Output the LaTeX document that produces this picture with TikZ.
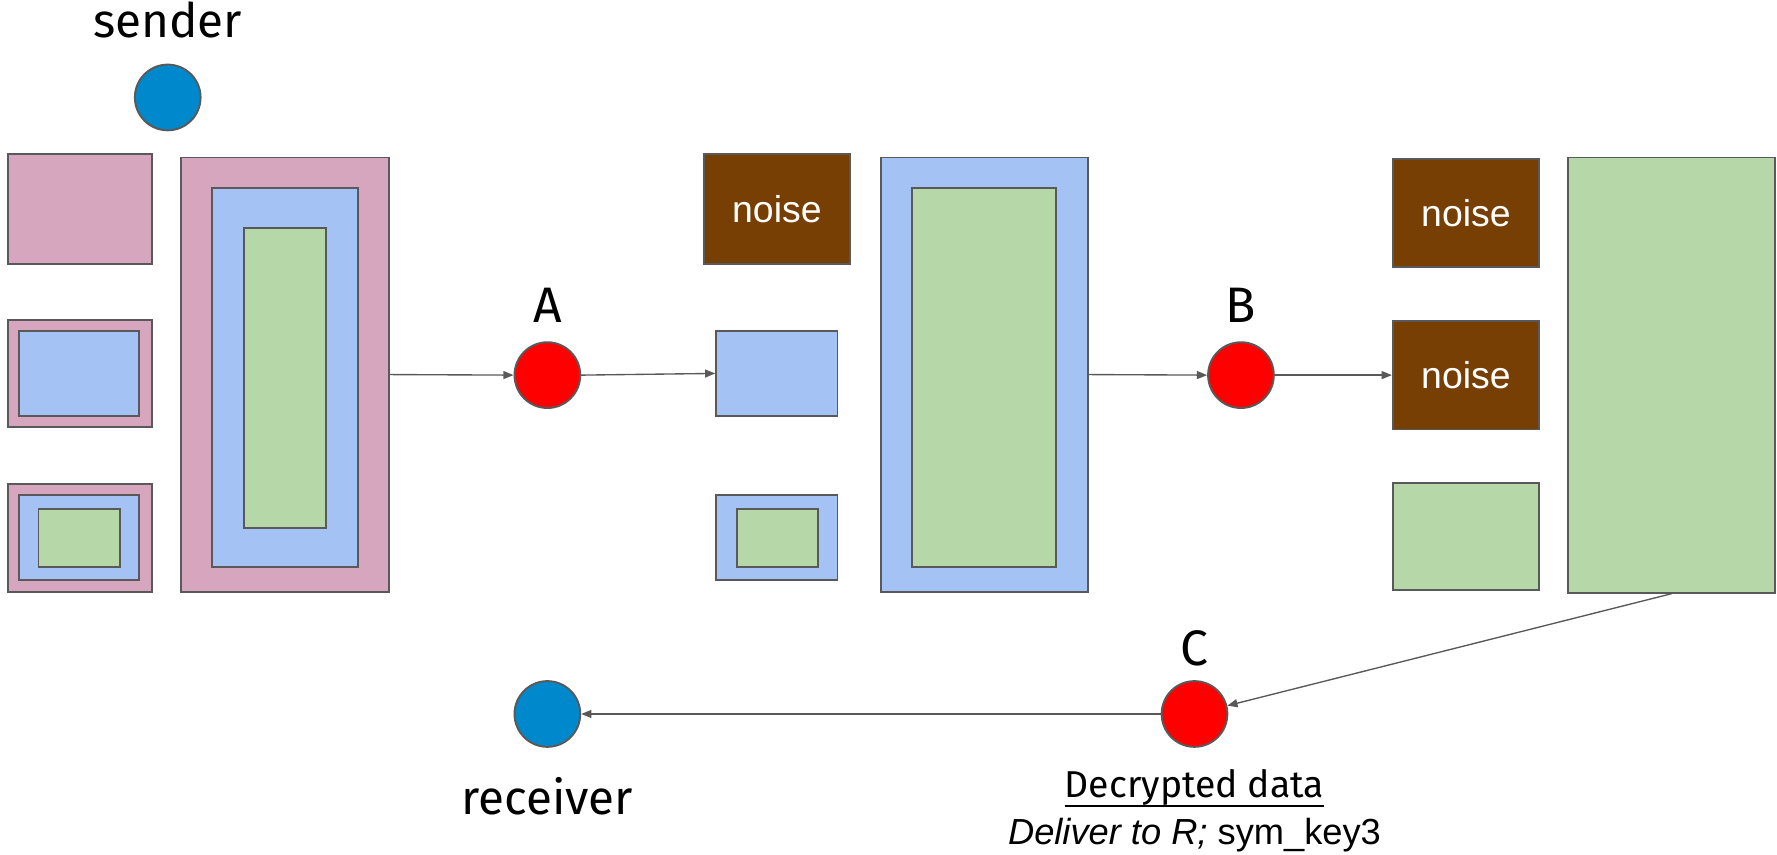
\documentclass[tikz,border=0pt]{standalone}
\usepackage{fontspec}
\setmainfont{Liberation Sans}
\newfontfamily\lblfont{Fira Sans}
\usetikzlibrary{arrows.meta}
\definecolor{pinkc}{HTML}{D5A6BD}
\definecolor{bluec}{HTML}{A4C2F4}
\definecolor{greenc}{HTML}{B6D7A8}
\definecolor{brownc}{HTML}{783F04}
\definecolor{redc}{HTML}{FF0000}
\definecolor{dotblue}{HTML}{0088CC}
\definecolor{edgec}{HTML}{595959}
\tikzset{
  box/.style={draw=edgec, line width=1.7pt, inner sep=0pt, rectangle},
  pinkbox/.style={box, fill=pinkc},
  bluebox/.style={box, fill=bluec},
  greenbox/.style={box, fill=greenc},
  noisebox/.style={box, fill=brownc, text=white, font=\fontsize{33}{33}\selectfont},
  dot/.style={circle, draw=edgec, line width=1.7pt, minimum size=58pt, inner sep=0pt},
  reddot/.style={dot, fill=redc},
  bluedot/.style={dot, fill=dotblue},
  lbl/.style={font=\lblfont\fontsize{42}{42}\selectfont, anchor=base, inner sep=0pt},
  letter/.style={font=\lblfont\fontsize{44}{44}\selectfont, anchor=base, inner sep=0pt},
  arr/.style={draw=edgec, line width=1.2pt, -{Triangle[length=9pt,width=7pt]}}
}
\begin{document}
\begin{tikzpicture}[x=1pt,y=-1pt]
\useasboundingbox (0,0) rectangle (1568,754);
% sender column
\node[lbl] (sendt) at (148,33) {sender};
\node[bluedot] (S) at (148,86) {};
\node[pinkbox, minimum width=127pt, minimum height=97pt] (p1) at (70.5,184.5) {};
\node[pinkbox, minimum width=127pt, minimum height=95pt] (p2) at (70.5,329.5) {};
\node[bluebox, minimum width=106pt, minimum height=75pt] (p2b) at (70,329.5) {};
\node[pinkbox, minimum width=127pt, minimum height=95pt] (p3) at (70.5,474.5) {};
\node[bluebox, minimum width=106pt, minimum height=75pt] (p3b) at (70,474.5) {};
\node[greenbox, minimum width=72pt, minimum height=51pt] (p3g) at (70,474.5) {};
\node[pinkbox, minimum width=183pt, minimum height=383pt] (P) at (251.5,330.5) {};
\node[bluebox, minimum width=129pt, minimum height=334pt] (Pb) at (251.5,333) {};
\node[greenbox, minimum width=73pt, minimum height=265pt] (Pg) at (251.5,333.5) {};
% A
\node[reddot] (A) at (483,331) {};
\node[letter] (At) at (483,285) {A};
% middle column
\node[noisebox, minimum width=129pt, minimum height=97pt] (n1) at (685.5,184.5) {noise};
\node[bluebox, minimum width=107pt, minimum height=75pt] (m2) at (685.5,329.5) {};
\node[bluebox, minimum width=107pt, minimum height=75pt] (m3) at (685.5,474.5) {};
\node[greenbox, minimum width=72pt, minimum height=51pt] (m3g) at (686,474.5) {};
\node[bluebox, minimum width=183pt, minimum height=383pt] (M) at (868.5,330.5) {};
\node[greenbox, minimum width=127pt, minimum height=334pt] (Mg) at (868.5,333) {};
% B
\node[reddot] (B) at (1095,331) {};
\node[letter] (Bt) at (1095,285) {B};
% right column
\node[noisebox, minimum width=129pt, minimum height=96pt] (r1) at (1293.5,188) {noise};
\node[noisebox, minimum width=129pt, minimum height=96pt] (r2) at (1293.5,331) {noise};
\node[greenbox, minimum width=129pt, minimum height=95pt] (r3) at (1293.5,473.5) {};
\node[greenbox, minimum width=183pt, minimum height=384pt] (G) at (1475,331) {};
% C and receiver
\node[reddot] (C) at (1054,630) {};
\node[letter] (Ct) at (1054,587) {C};
\node[bluedot] (R) at (483,630) {};
\node[lbl] (Rt) at (483,719) {receiver};
\node[font=\lblfont\fontsize{33}{33}\selectfont, anchor=base, inner sep=0pt] (dd) at (1054,704) {Decrypted data};
\draw[line width=2.2pt] (dd.south west) -- (dd.south east);
\node[font=\fontsize{32}{32}\selectfont, anchor=base, inner sep=0pt] (dl) at (1054,745) {\textit{Deliver to R;} sym\_key3};
% connectors
\draw[arr] (P.east) -- (A.west);
\draw[arr] (A.east) -- (m2.west);
\draw[arr] (M.east) -- (B.west);
\draw[arr] (B.east) -- (r2.west);
\draw[arr] (G.south) -- (C);
\draw[arr] (C.west) -- (R.east);
\end{tikzpicture}
\end{document}
